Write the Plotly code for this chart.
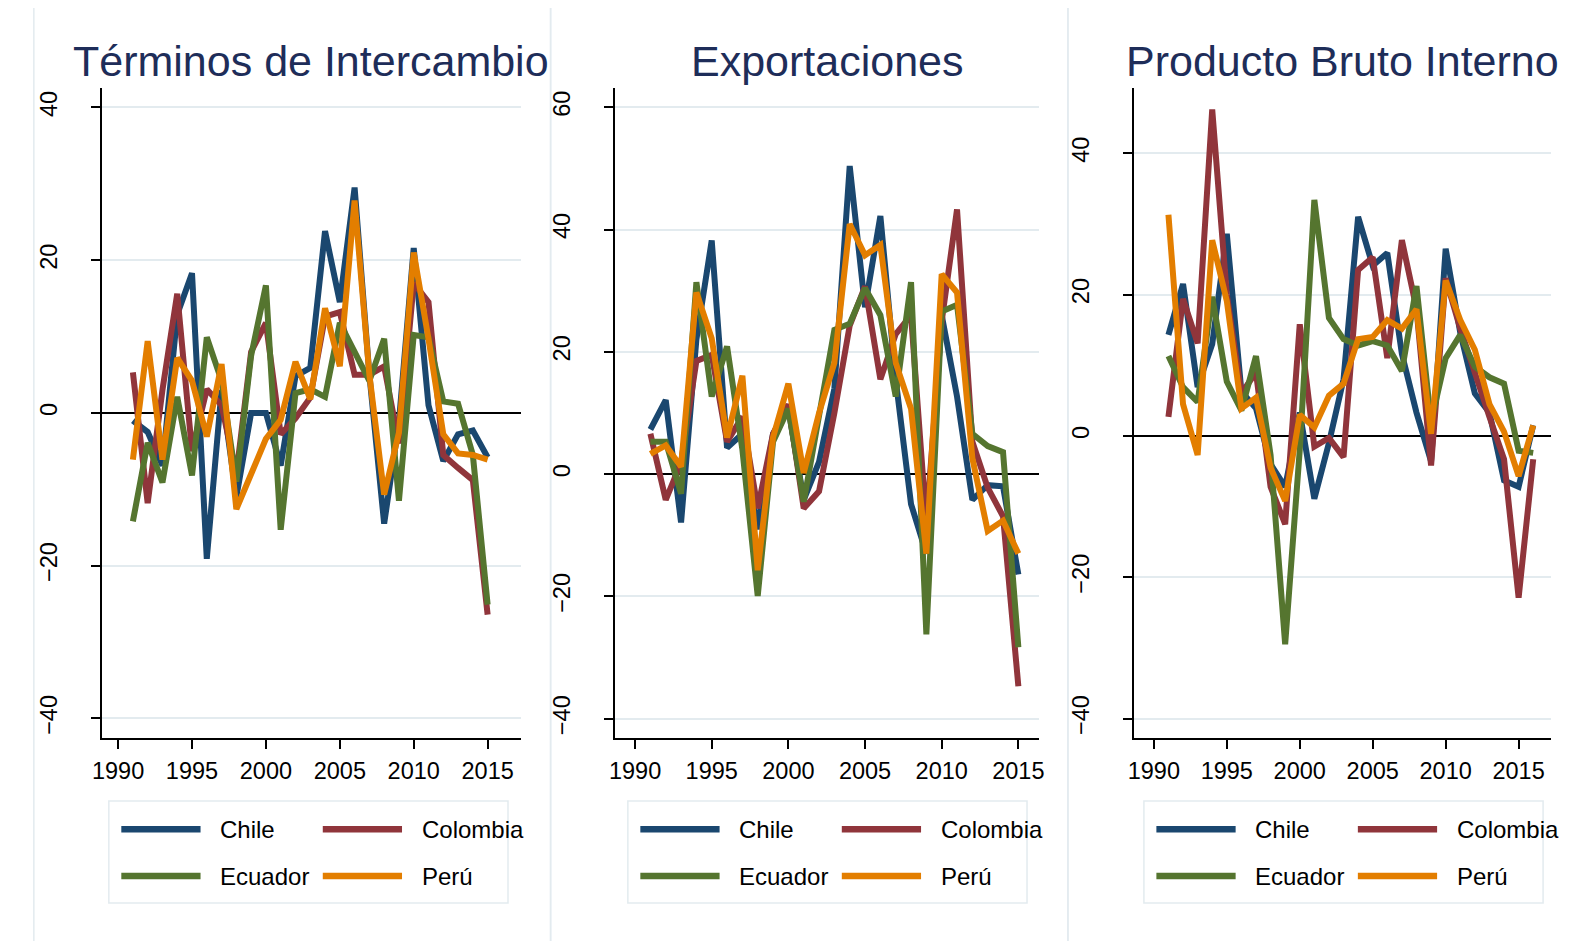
import plotly.graph_objects as go

# ---------------- data ----------------
years_a = list(range(1991, 2016))   # Términos de Intercambio, Exportaciones
years_b = list(range(1991, 2017))   # Producto Bruto Interno
countries = ["Chile", "Colombia", "Ecuador", "Perú"]
xtick_years = [1990, 1995, 2000, 2005, 2010, 2015]

chile_ti = [-1, -2.5, -6.9, 12.9, 18.3, -19.1, 3, -11, 0, 0, -6.9, 4.8, 5.9, 23.8, 14.5, 29.5, 5, -14.5, -1.2, 21.6, 1, -6.3, -2.8, -2.3, -5.8]
colombia_ti = [5.3, -11.8, 3, 15.6, -5, 3.1, 1, -8, 8, 11.8, -2.8, -0.7, 2, 12.6, 13.2, 5, 5, 6.1, -4, 17, 14.5, -5.5, -7.2, -8.8, -26.4]
ecuador_ti = [-14.2, -3.9, -9.1, 2.1, -8.2, 9.9, 4.2, -9, 7.5, 16.7, -15.3, 2.6, 3.1, 2.1, 11.8, 8, 4.2, 9.7, -11.5, 10.2, 9.9, 1.5, 1.2, -5.5, -25.1]
peru_ti = [-6.1, 9.4, -6.1, 7.2, 4.2, -3.1, 6.4, -12.6, -8, -3.4, -0.9, 6.7, 1.8, 13.7, 6.1, 27.8, 5, -10.7, -2.6, 21, 9.7, -2.8, -5.3, -5.5, -6.1]

chile_ex = [7.3, 12.1, -7.9, 22, 38.2, 4.3, 6.6, -9, 6.6, 10.7, -4.2, 2, 14, 50.4, 27.3, 42.2, 15.5, -4.9, -13, 26, 12.7, -4.2, -1.8, -2, -16.4]
colombia_ex = [6.6, -4.2, 1.9, 18.5, 19.5, 5.3, 9.4, -5.6, 6.6, 11.4, -5.6, -2.8, 10, 24.3, 30.7, 15.5, 22.9, 26, -8, 25, 43.3, 5.3, -2.2, -6.9, -34.7]
ecuador_ex = [5.3, 5.3, -3.2, 31.4, 12.7, 20.9, 4, -19.9, 5.3, 10.7, -4.5, 10, 23.6, 24.6, 30.4, 26, 12.7, 31.4, -26.2, 26.6, 27.7, 6.6, 4.6, 3.6, -28.3]
peru_ex = [3.3, 4.7, 1.2, 29.7, 22.2, 6, 16.1, -15.7, 6, 14.8, 0.2, 10, 18.2, 40.9, 35.8, 37.5, 18.2, 10.7, -13, 32.7, 29.7, 2.6, -9.3, -7.6, -13]

chile_pbi = [14.3, 21.5, 6.9, 13, 28.6, 6.3, 3.9, -4, -7.2, 3.3, -8.9, -1, 8, 31, 24.1, 25.9, 11.6, 3.3, -3.6, 26.5, 14.6, 6, 3.3, -6.3, -7.2, 1.5]
colombia_pbi = [2.7, 19.4, 13.1, 46.2, 20, 6, 9, -7.2, -12.5, 15.8, -1.5, -0.3, -3, 23.5, 25.3, 11, 27.7, 18, -4.2, 22.3, 15.2, 8.6, 2.7, -3.3, -22.9, -3.3]
ecuador_pbi = [11.3, 6.9, 4.8, 19.7, 7.7, 3.6, 11.3, -2.7, -29.5, -2, 33.4, 16.7, 13.7, 12.8, 13.4, 12.8, 9.2, 21.2, 2, 11, 14.3, 9.8, 8.3, 7.4, -2.1, -2.4]
peru_pbi = [31.3, 4.5, -2.7, 27.7, 19.1, 3.9, 5.4, -4.5, -9.2, 3, 1.2, 5.7, 7.4, 13.7, 14, 16.4, 15.2, 17.9, 0.3, 22, 16.4, 12.2, 4.5, 0.6, -5.7, 1.5]

titles = ["Términos de Intercambio", "Exportaciones", "Producto Bruto Interno"]
ytick_sets = [[-40, -20, 0, 20, 40], [-40, -20, 0, 20, 40, 60], [-40, -20, 0, 20, 40]]

# ---------------- style ----------------
W, H = 1580, 941
OFF = 8  # default page body margin offsets the figure
FONT = "Liberation Sans, Arial, sans-serif"
colors = ["#1a476f", "#90353b", "#55752f", "#e37e00"]
TITLE_COLOR = "#1e2d59"
GRID = "#e3ebef"
BORDER = "#e3ebef"

panels = [
    dict(x0=92.5, x1=515.7, xr=[1988.89, 2017.25], yr=[-42.6, 42.5], leg=88.7),
    dict(x0=610.7, x1=1039.0, xr=[1988.69, 2016.36], yr=[-43.2, 63.1], leg=612.7),
    dict(x0=1134.7, x1=1556.0, xr=[1988.64, 2017.24], yr=[-42.8, 49.2], leg=1133.7),
]
PY_TOP, PY_BOT = 88.3, 738.3
boxes = [(24, 545.7), (545.7, 1068), (1068, 1590)]


def fx(px):
    return (px - OFF) / W


def fy(py):
    return 1 - (py - OFF) / H


series = [
    (years_a, [chile_ti, colombia_ti, ecuador_ti, peru_ti]),
    (years_a, [chile_ex, colombia_ex, ecuador_ex, peru_ex]),
    (years_b, [chile_pbi, colombia_pbi, ecuador_pbi, peru_pbi]),
]

fig = go.Figure()
shapes = []
annotations = []

for i, (p, (yrs, vals)) in enumerate(zip(panels, series)):
    n = "" if i == 0 else str(i + 1)
    for c, v, col in zip(countries, vals, colors):
        fig.add_trace(go.Scatter(
            x=yrs, y=v, mode="lines", name=c, showlegend=False,
            line=dict(color=col, width=6),
            xaxis="x" + n, yaxis="y" + n,
        ))
    fig.layout["xaxis" + n] = dict(
        domain=[fx(p["x0"]), fx(p["x1"])], anchor="y" + n, range=p["xr"],
        showline=True, linecolor="black", linewidth=1.5,
        ticks="outside", ticklen=9, tickwidth=1.5, tickcolor="black",
        tickvals=xtick_years, showgrid=False, zeroline=False,
        tickfont=dict(family=FONT, size=23.5, color="black"),
        ticklabelstandoff=2,
    )
    fig.layout["yaxis" + n] = dict(
        domain=[fy(PY_BOT), fy(PY_TOP)], anchor="x" + n, range=p["yr"],
        showline=True, linecolor="black", linewidth=1.5,
        ticks="outside", ticklen=9, tickwidth=1.5, tickcolor="black",
        tickvals=ytick_sets[i], showgrid=True, gridcolor=GRID, gridwidth=1.5,
        zeroline=True, zerolinecolor="black", zerolinewidth=2,
        tickangle=-90, ticklabelstandoff=25,
        tickfont=dict(family=FONT, size=23.5, color="black"),
    )
    # panel border box
    bx0, bx1 = boxes[i]
    shapes.append(dict(type="rect", xref="paper", yref="paper",
                       x0=fx(bx0), x1=fx(bx1), y0=fy(960), y1=fy(5),
                       line=dict(color=BORDER, width=1.5), layer="below"))
    # title
    cx = (p["x0"] + p["x1"]) / 2
    annotations.append(dict(text=titles[i], xref="paper", yref="paper",
                            x=fx(cx), y=fy(60.5), xanchor="center", yanchor="middle",
                            showarrow=False,
                            font=dict(family=FONT, size=43, color=TITLE_COLOR)))
    # legend
    L = p["leg"]
    shapes.append(dict(type="rect", xref="paper", yref="paper",
                       x0=fx(L + 11), x1=fx(L + 414), y0=fy(903), y1=fy(801),
                       line=dict(color=BORDER, width=1.5), fillcolor="white", layer="below"))
    rows = [829.3, 876.0]
    cols = [(L + 23.6, L + 103.6, L + 121), (L + 227, L + 307, L + 325)]
    for k, (c, col) in enumerate(zip(countries, colors)):
        r, cc = divmod(k, 2)
        lx0, lx1, tx = cols[cc]
        shapes.append(dict(type="line", xref="paper", yref="paper",
                           x0=fx(lx0), x1=fx(lx1), y0=fy(rows[r]), y1=fy(rows[r]),
                           line=dict(color=col, width=6.5)))
        annotations.append(dict(text=c, xref="paper", yref="paper",
                                x=fx(tx), y=fy(rows[r]), xanchor="left", yanchor="middle",
                                showarrow=False,
                                font=dict(family=FONT, size=24, color="black")))

fig.update_layout(
    width=W, height=H, margin=dict(l=0, r=0, t=0, b=0),
    paper_bgcolor="white", plot_bgcolor="white",
    shapes=shapes, annotations=annotations, showlegend=False,
    font=dict(family=FONT),
)

fig.write_html("out.html")
